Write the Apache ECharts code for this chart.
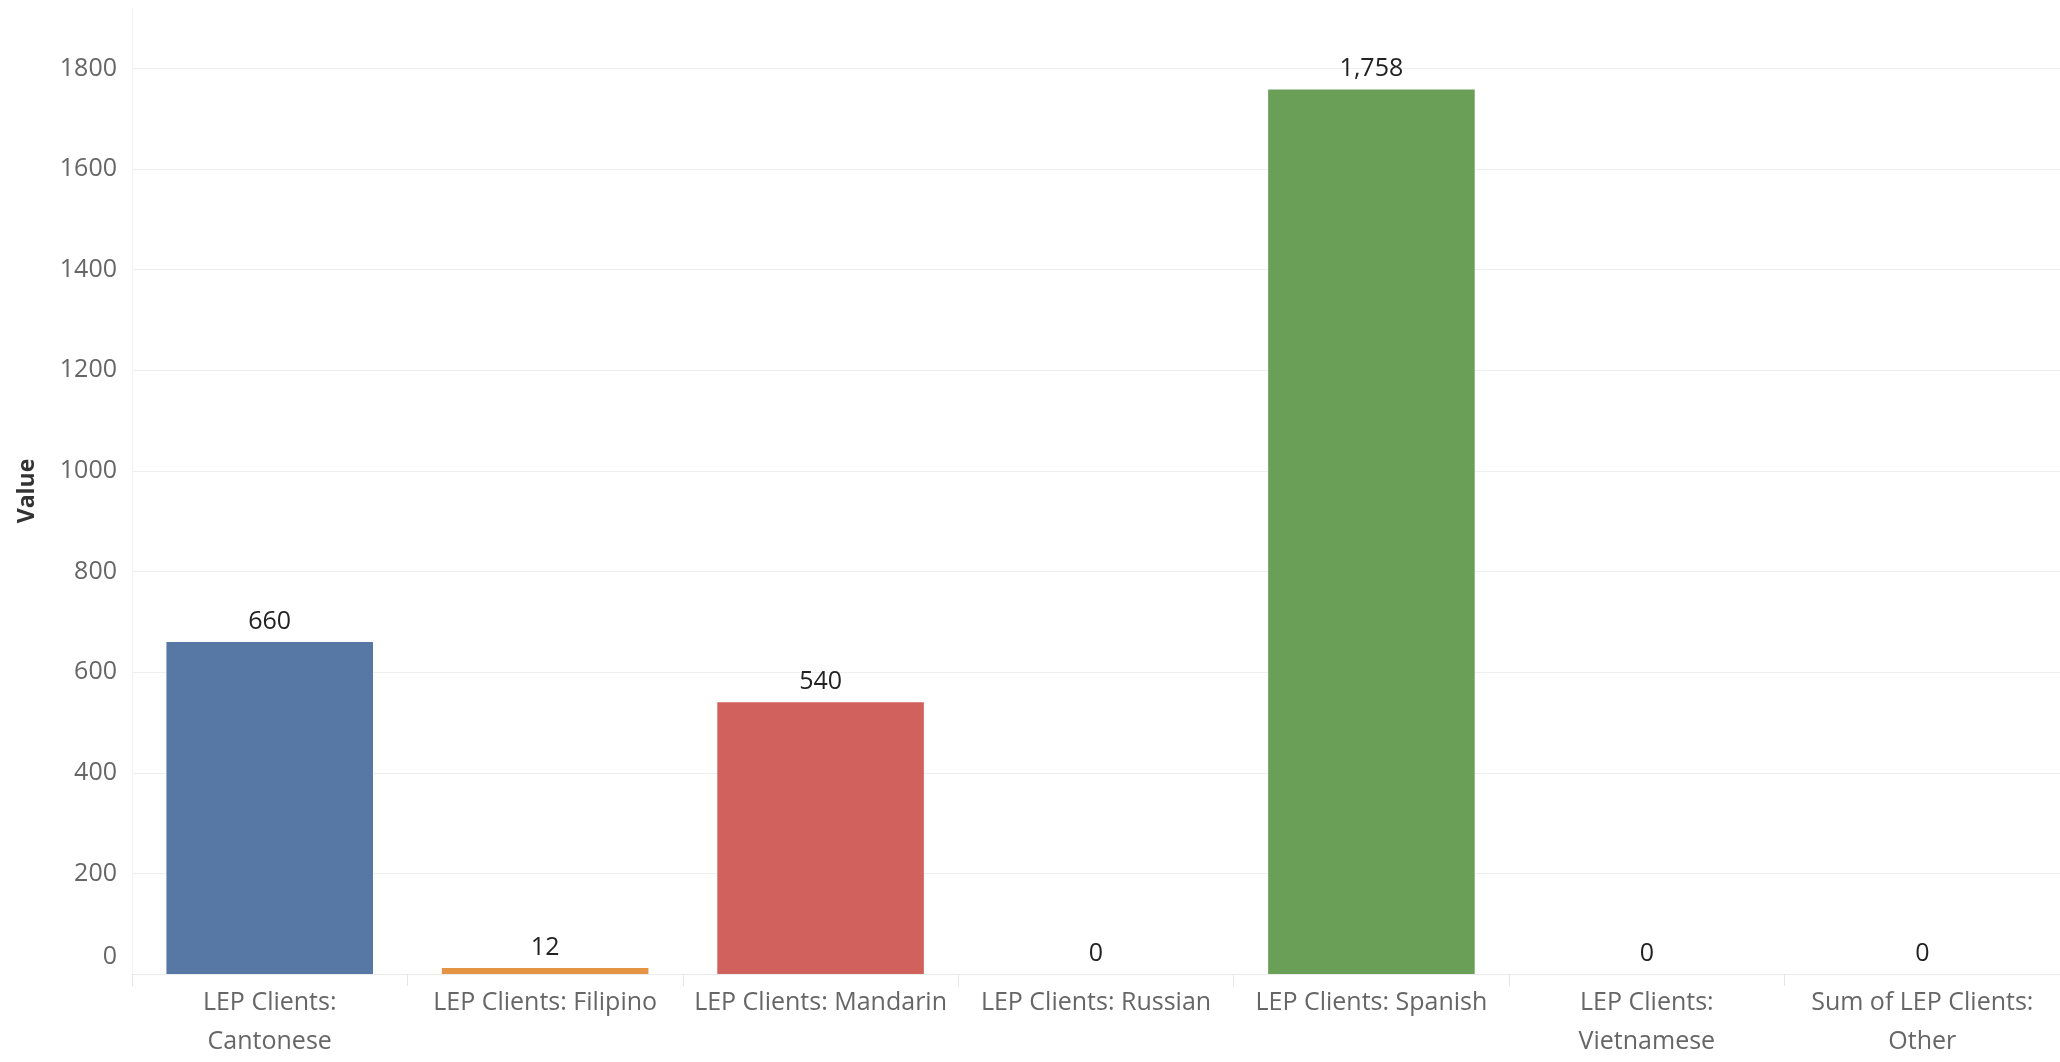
<!DOCTYPE html>
<html>
<head>
<meta charset="utf-8">
<script src="https://cdn.jsdelivr.net/npm/echarts@6/dist/echarts.min.js"></script>
<style>
html,body{margin:0;padding:0;background:#fff;}
#chart{width:2060px;height:1062px;}
</style>
</head>
<body>
<div id="chart"></div>
<script>
var categories = ['LEP Clients: Cantonese','LEP Clients: Filipino','LEP Clients: Mandarin','LEP Clients: Russian','LEP Clients: Spanish','LEP Clients: Vietnamese','Sum of LEP Clients: Other'];
var tickLabels = ['LEP Clients:\nCantonese','LEP Clients: Filipino','LEP Clients: Mandarin','LEP Clients: Russian','LEP Clients: Spanish','LEP Clients:\nVietnamese','Sum of LEP Clients:\nOther'];
var values = [660, 12, 540, 0, 1758, 0, 0];
var barColors = ['#5778a4','#e49444','#d1615d','#85b6b2','#6a9f58','#e7ca60','#a87c9f'];
var yTicks = [0,200,400,600,800,1000,1200,1400,1600,1800];

var FONT = '"Open Sans", sans-serif';
var chart = echarts.init(document.getElementById('chart'), null, {renderer:'canvas'});
chart.setOption({
  animation:false,
  backgroundColor:'#ffffff',
  grid:{left:132, right:0, top:8, bottom:88, containLabel:false, outerBoundsMode:'none'},
  xAxis:{
    type:'category',
    data:categories,
    axisLine:{show:true, lineStyle:{color:'#ececec', width:1}},
    axisTick:{show:true, length:12, lineStyle:{color:'#e6e6e6'}},
    axisLabel:{
      margin:9,
      fontFamily:FONT, fontSize:25, color:'#666666', lineHeight:39,
      interval:0,
      formatter:function(v, i){ return tickLabels[i]; }
    }
  },
  yAxis:{
    type:'value',
    min:0, max:1920, interval:200,
    name:'Value',
    nameLocation:'middle', nameRotate:90, nameGap:93,
    nameTextStyle:{fontFamily:FONT, fontSize:23, fontWeight:'bold', color:'#333333'},
    axisLine:{show:true, lineStyle:{color:'#f2f2f2'}},
    axisTick:{show:false},
    axisLabel:{
      margin:15, fontFamily:FONT, fontSize:25, color:'#666666',
      showMaxLabel:false,
      formatter:function(v){
        if (yTicks.indexOf(v) < 0) return '';
        return v === 0 ? '{z|0}' : String(v);
      },
      rich:{z:{fontFamily:FONT, fontSize:25, color:'#666666', padding:[0,0,34,0]}}
    },
    splitLine:{show:true, showMaxLine:false, lineStyle:{color:'#efefef', width:1}}
  },
  series:[{
    type:'bar',
    barWidth:'75%',
    data:values.map(function(v,i){ return {value:v, itemStyle:{color:barColors[i]}}; }),
    label:{
      show:true, position:'top', distance:8,
      fontFamily:FONT, fontSize:25, color:'#222222',
      formatter:function(p){ return p.value.toLocaleString('en-US'); }
    }
  }]
});
</script>
</body>
</html>
